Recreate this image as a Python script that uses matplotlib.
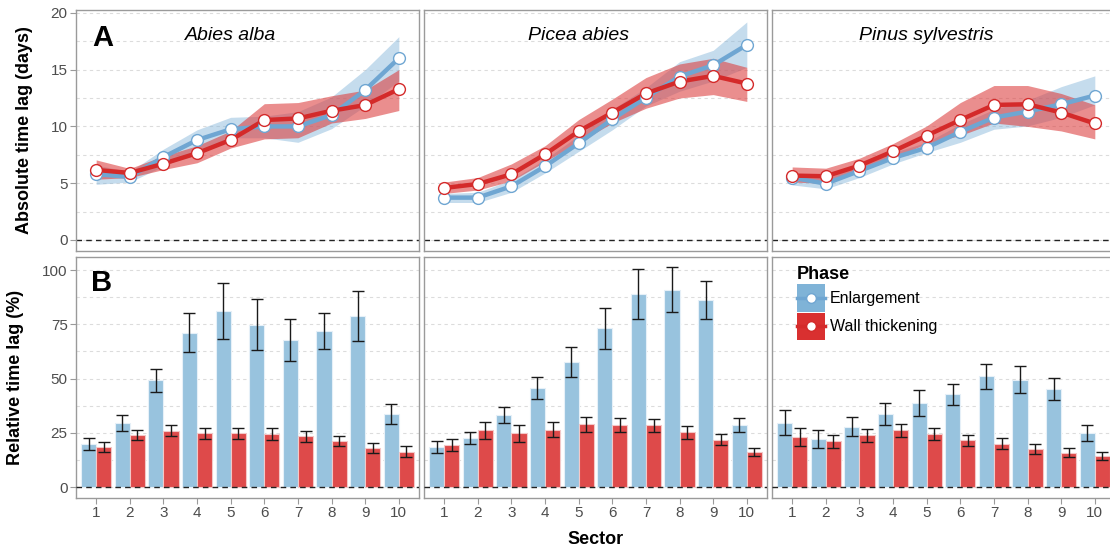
import numpy as np
import matplotlib.pyplot as plt
from matplotlib.patches import Patch
from matplotlib.lines import Line2D
from matplotlib.legend_handler import HandlerTuple, HandlerLine2D

plt.rcParams['font.family'] = ['Liberation Sans', 'DejaVu Sans']

species = ['Abies alba', 'Picea abies', 'Pinus sylvestris']
sectors = np.arange(1, 11)
sector_labels = [str(s) for s in sectors]

# absolute time lag (days): mean and ribbon limits
abies_enl = [5.8, 5.55, 7.3, 8.8, 9.75, 10.0, 10.0, 11.0, 13.2, 16.0]
abies_enl_lo = [4.9, 5.1, 6.5, 7.8, 9.0, 9.0, 8.6, 9.8, 11.8, 14.0]
abies_enl_hi = [6.6, 6.0, 8.0, 9.7, 10.8, 10.9, 11.3, 12.6, 15.0, 17.9]
abies_wall = [6.17, 5.9, 6.72, 7.64, 8.81, 10.56, 10.7, 11.38, 11.88, 13.28]
abies_wall_lo = [5.35, 5.5, 6.2, 6.8, 8.1, 8.9, 9.0, 10.3, 10.7, 11.4]
abies_wall_hi = [7.05, 6.3, 7.4, 8.3, 9.6, 12.0, 12.1, 12.7, 13.2, 15.0]

picea_enl = [3.73, 3.73, 4.73, 6.49, 8.52, 10.63, 12.54, 14.39, 15.39, 17.18]
picea_enl_lo = [3.3, 3.3, 4.2, 5.9, 7.8, 9.7, 11.8, 13.1, 14.0, 15.2]
picea_enl_hi = [4.1, 4.2, 5.3, 7.1, 9.2, 11.5, 13.4, 15.7, 16.7, 19.2]
picea_wall = [4.58, 4.93, 5.79, 7.55, 9.57, 11.22, 12.9, 13.95, 14.45, 13.77]
picea_wall_lo = [4.1, 4.4, 5.2, 6.9, 8.6, 10.3, 11.6, 12.5, 12.8, 12.2]
picea_wall_hi = [5.1, 5.5, 6.7, 8.3, 10.6, 12.4, 14.3, 15.5, 16.0, 15.2]

pinus_enl = [5.49, 4.96, 6.08, 7.22, 8.13, 9.52, 10.78, 11.31, 11.95, 12.72]
pinus_enl_lo = [4.85, 4.5, 5.5, 6.7, 7.7, 8.6, 9.75, 10.04, 10.8, 11.9]
pinus_enl_hi = [5.9, 5.4, 6.6, 7.7, 8.6, 10.2, 11.5, 12.3, 13.5, 14.45]
pinus_wall = [5.67, 5.61, 6.55, 7.81, 9.19, 10.57, 11.89, 11.95, 11.22, 10.26]
pinus_wall_lo = [5.1, 5.0, 6.0, 7.2, 8.5, 9.2, 10.3, 10.0, 9.6, 8.9]
pinus_wall_hi = [6.43, 6.32, 7.2, 8.49, 10.04, 12.1, 13.6, 13.6, 12.9, 11.9]

# relative time lag (%): mean and standard error
abies_rel_enl = [20.0, 29.4, 49.2, 71.0, 81.3, 74.8, 67.9, 71.8, 78.9, 33.7]
abies_rel_enl_se = [2.8, 3.8, 5.2, 9.0, 12.9, 11.7, 9.7, 8.3, 11.6, 4.7]
abies_rel_wall = [18.6, 24.0, 25.9, 24.8, 24.8, 24.4, 23.3, 21.2, 18.1, 16.3]
abies_rel_wall_se = [2.3, 2.4, 2.5, 2.5, 2.6, 2.6, 2.6, 2.5, 2.3, 2.4]

picea_rel_enl = [18.6, 22.6, 33.3, 45.7, 57.6, 73.2, 89.0, 90.9, 86.1, 28.6]
picea_rel_enl_se = [2.8, 2.7, 3.8, 5.2, 7.1, 9.5, 11.4, 10.3, 8.8, 3.1]
picea_rel_wall = [19.2, 26.1, 24.7, 26.5, 28.9, 28.5, 28.4, 25.2, 21.9, 16.0]
picea_rel_wall_se = [2.8, 3.8, 3.8, 3.5, 3.6, 3.2, 3.1, 2.9, 2.6, 1.8]

pinus_rel_enl = [29.6, 22.0, 27.8, 33.6, 38.7, 42.7, 51.0, 49.5, 45.0, 24.9]
pinus_rel_enl_se = [5.7, 4.1, 4.3, 5.1, 5.8, 5.0, 5.9, 6.2, 5.1, 3.5]
pinus_rel_wall = [23.2, 21.1, 23.8, 26.1, 24.4, 21.5, 19.9, 17.5, 15.9, 14.2]
pinus_rel_wall_se = [4.1, 3.1, 3.1, 3.1, 2.6, 2.5, 2.5, 2.3, 1.9, 1.9]

absolute = [
    (abies_enl, abies_enl_lo, abies_enl_hi, abies_wall, abies_wall_lo, abies_wall_hi),
    (picea_enl, picea_enl_lo, picea_enl_hi, picea_wall, picea_wall_lo, picea_wall_hi),
    (pinus_enl, pinus_enl_lo, pinus_enl_hi, pinus_wall, pinus_wall_lo, pinus_wall_hi),
]
relative = [
    (abies_rel_enl, abies_rel_enl_se, abies_rel_wall, abies_rel_wall_se),
    (picea_rel_enl, picea_rel_enl_se, picea_rel_wall, picea_rel_wall_se),
    (pinus_rel_enl, pinus_rel_enl_se, pinus_rel_wall, pinus_rel_wall_se),
]

blue_line = '#6fa6d2'
blue_band = '#7fb2d8'
blue_bar = '#98c3de'
red_line = '#d42a2a'
red_band = '#dc3c3c'
red_bar = '#de4a4a'
grid_col = '#dcdcdc'
border_col = '#9a9a9a'
tick_col = '#4d4d4d'

W, H = 1110, 552
fig = plt.figure(figsize=(W / 100, H / 100), dpi=100)

col_left = [76, 424, 772]
col_w = 343
row_top = [10, 257]
row_h = 241


def style_axes(ax, show_x, show_y):
    for sp in ax.spines.values():
        sp.set_color(border_col)
        sp.set_linewidth(1.0)
    ax.set_xlim(0.4, 10.6)
    ax.set_xticks(sectors)
    ax.tick_params(axis='both', colors=border_col, labelcolor=tick_col,
                   labelsize=11, length=4, width=0.8, pad=2)
    if show_x:
        ax.set_xticklabels(sector_labels)
    else:
        ax.tick_params(axis='x', length=0, labelbottom=False)
    if not show_y:
        ax.tick_params(axis='y', length=0, labelleft=False)
    ax.yaxis.grid(True, which='both', color=grid_col, linestyle=(0, (3, 3)), linewidth=0.8)
    ax.set_axisbelow(True)


axes_top = []
axes_bot = []
for j in range(3):
    ax = fig.add_axes([col_left[j] / W, 1 - (row_top[0] + row_h) / H, col_w / W, row_h / H])
    axes_top.append(ax)
    ax2 = fig.add_axes([col_left[j] / W, 1 - (row_top[1] + row_h) / H, col_w / W, row_h / H])
    axes_bot.append(ax2)

# panel A: absolute lag
for j, ax in enumerate(axes_top):
    enl, enl_lo, enl_hi, wall, wall_lo, wall_hi = absolute[j]
    ax.fill_between(sectors, enl_lo, enl_hi, color=blue_band, alpha=0.45, lw=0)
    ax.fill_between(sectors, wall_lo, wall_hi, color=red_band, alpha=0.58, lw=0)
    ax.plot(sectors, enl, color=blue_line, lw=3.2, solid_capstyle='round', zorder=3)
    ax.plot(sectors, wall, color=red_line, lw=3.2, solid_capstyle='round', zorder=3)
    ax.plot(sectors, enl, 'o', ms=8.5, mfc='white', mec=blue_line, mew=1.0, zorder=4)
    ax.plot(sectors, wall, 'o', ms=8.5, mfc='white', mec=red_line, mew=1.0, zorder=4)
    ax.axhline(0, color='#222222', lw=1.0, ls=(0, (4, 3)), zorder=2)
    ax.set_ylim(-0.97, 20.25)
    ax.set_yticks([0, 5, 10, 15, 20])
    ax.set_yticks([2.5, 7.5, 12.5, 17.5], minor=True)
    ax.tick_params(axis='y', which='minor', length=0)
    style_axes(ax, False, j == 0)
    ax.text(5, 18.0, species[j], style='italic', fontsize=14, ha='center', va='center')

axes_top[0].text(1.2, 17.8, 'A', fontsize=21, fontweight='bold', ha='center', va='center')
axes_top[0].set_ylabel('Absolute time lag (days)', fontsize=13, fontweight='bold', labelpad=13)

# panel B: relative lag
bw = 0.45
for j, ax in enumerate(axes_bot):
    enl, enl_se, wall, wall_se = relative[j]
    ax.bar(sectors - bw / 2, enl, width=bw, color=blue_bar, edgecolor='#e6f0f8', lw=0.8, zorder=2)
    ax.bar(sectors + bw / 2, wall, width=bw, color=red_bar, edgecolor='#f3c8c8', lw=0.8, zorder=2)
    ax.errorbar(sectors - bw / 2, enl, yerr=enl_se, fmt='none', ecolor='#1a1a1a',
                elinewidth=1.0, capsize=4.5, capthick=1.0, zorder=3)
    ax.errorbar(sectors + bw / 2, wall, yerr=wall_se, fmt='none', ecolor='#1a1a1a',
                elinewidth=1.0, capsize=4.5, capthick=1.0, zorder=3)
    ax.axhline(0, color='#222222', lw=1.0, ls=(0, (4, 3)), zorder=4)
    ax.set_ylim(-5.05, 106)
    ax.set_yticks([0, 25, 50, 75, 100])
    ax.set_yticks([12.5, 37.5, 62.5, 87.5], minor=True)
    ax.tick_params(axis='y', which='minor', length=0)
    style_axes(ax, True, j == 0)

axes_bot[0].text(1.15, 94, 'B', fontsize=21, fontweight='bold', ha='center', va='center')
axes_bot[0].set_ylabel('Relative time lag (%)', fontsize=13, fontweight='bold', labelpad=13)
fig.text(596 / W, 1 - 540 / H, 'Sector', fontsize=13, fontweight='bold', ha='center', va='center')


class CenteredLine(HandlerLine2D):
    # put the key line in the middle of the square key
    def create_artists(self, legend, orig_handle, xdescent, ydescent, width, height,
                       fontsize, trans):
        return super().create_artists(legend, orig_handle, xdescent, 2 * ydescent,
                                      width, height, fontsize, trans)


handles = [
    (Patch(facecolor='#7fb3d7', edgecolor='none'),
     Line2D([], [], color=blue_line, lw=2.5, marker='o', ms=7, mfc='white', mec=blue_line)),
    (Patch(facecolor='#d93030', edgecolor='none'),
     Line2D([], [], color=red_line, lw=2.5, marker='o', ms=7, mfc='white', mec=red_line)),
]
leg = axes_bot[2].legend(handles, ['Enlargement', 'Wall thickening'],
                         handler_map={tuple: HandlerTuple(ndivide=1, pad=0),
                                      Line2D: CenteredLine()},
                         title='Phase', loc='upper left', bbox_to_anchor=(0.035, 1.015),
                         frameon=False, fontsize=11.5, handlelength=1.75, handleheight=2.3,
                         handletextpad=0.3, labelspacing=0.05, borderpad=0.3,
                         alignment='left')
leg.get_title().set_fontweight('bold')
leg.get_title().set_fontsize(13)

fig.savefig('out.png', dpi=100)
